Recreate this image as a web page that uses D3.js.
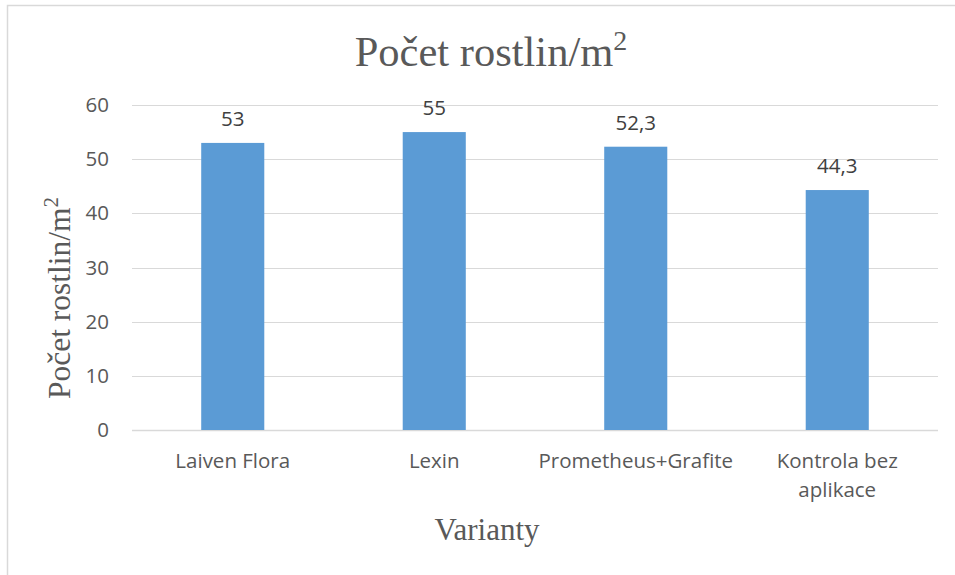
<!DOCTYPE html>
<html><head><meta charset="utf-8">
<script src="https://cdn.jsdelivr.net/npm/d3@7"></script>
<style>html,body{margin:0;padding:0;background:#fff;}svg{display:block;}</style>
</head><body>
<script>
const categories = [["Laiven Flora"], ["Lexin"], ["Prometheus+Grafite"], ["Kontrola bez", "aplikace"]];
const values = [53, 55, 52.3, 44.3];
const valueLabels = ["53", "55", "52,3", "44,3"];
const yTicks = [0, 10, 20, 30, 40, 50, 60];
const titleText = "Počet rostlin/m";
const yTitleText = "Počet rostlin/m";
const xTitleText = "Varianty";

const W = 955, H = 575;
const svg = d3.select("body").append("svg").attr("width", W).attr("height", H);
const textColor = "#595959";
const sans = "'Open Sans', sans-serif";
const serif = "'Liberation Serif', 'Times New Roman', serif";
const fs = 20.5;

// chart border
svg.append("rect").attr("x", 7.5).attr("y", 5.5).attr("width", 960).attr("height", 600)
  .attr("fill", "none").attr("stroke", "#d9d9d9").attr("stroke-width", 1.5);

const plot = {left: 132, right: 938, top: 105, bottom: 430};
const x = d3.scaleBand().domain(categories.map((d, i) => i)).range([plot.left, plot.right]).padding(0);
const y = d3.scaleLinear().domain([0, 60]).range([plot.bottom, plot.top]);
const barW = x.bandwidth() * 0.313;

// gridlines
svg.append("g").selectAll("line").data(yTicks).join("line")
  .attr("x1", plot.left).attr("x2", plot.right)
  .attr("y1", d => Math.round(y(d)) + 0.5).attr("y2", d => Math.round(y(d)) + 0.5)
  .attr("stroke", "#d9d9d9").attr("stroke-width", d => d === 0 ? 1.5 : 1);

// y tick labels via axis
const yAxis = svg.append("g").attr("transform", `translate(${plot.left},0)`)
  .call(d3.axisLeft(y).tickValues(yTicks).tickSize(0).tickPadding(23).tickFormat(d3.format("d")));
yAxis.select(".domain").remove();
yAxis.selectAll("text").attr("font-family", sans).attr("font-size", fs).attr("fill", textColor);

// bars
svg.append("g").selectAll("rect").data(values).join("rect")
  .attr("x", (d, i) => x(i) + x.bandwidth() / 2 - barW / 2)
  .attr("width", barW)
  .attr("y", d => y(d))
  .attr("height", d => y(0) - y(d))
  .attr("fill", "#5b9bd5");

// value labels
svg.append("g").selectAll("text").data(values).join("text")
  .attr("x", (d, i) => x(i) + x.bandwidth() / 2)
  .attr("y", d => y(d) - 17)
  .attr("text-anchor", "middle")
  .attr("font-family", sans).attr("font-size", fs).attr("fill", "#404040")
  .text((d, i) => valueLabels[i]);

// category labels
const cat = svg.append("g").selectAll("text").data(categories).join("text")
  .attr("x", (d, i) => x(i) + x.bandwidth() / 2)
  .attr("y", plot.bottom + 38)
  .attr("text-anchor", "middle")
  .attr("font-family", sans).attr("font-size", fs).attr("fill", textColor);
cat.selectAll("tspan").data(d => d).join("tspan")
  .attr("x", function() { return d3.select(this.parentNode).attr("x"); })
  .attr("dy", (d, i) => i === 0 ? 0 : 29)
  .text(d => d);

// title
const t = svg.append("text").attr("x", 491).attr("y", 66).attr("text-anchor", "middle")
  .attr("font-family", serif).attr("font-size", 42.5).attr("fill", textColor);
t.append("tspan").text(titleText);
t.append("tspan").attr("font-size", 28).attr("dy", -16).text("2");

// y axis title
const yt = svg.append("text").attr("transform", "translate(70,298) rotate(-90)")
  .attr("text-anchor", "middle").attr("font-family", serif).attr("font-size", 31.5).attr("fill", textColor);
yt.append("tspan").text(yTitleText);
yt.append("tspan").attr("font-size", 21).attr("dy", -12).text("2");

// x axis title
svg.append("text").attr("x", 487).attr("y", 540).attr("text-anchor", "middle")
  .attr("font-family", serif).attr("font-size", 31).attr("fill", textColor).text(xTitleText);
</script>
</body></html>
